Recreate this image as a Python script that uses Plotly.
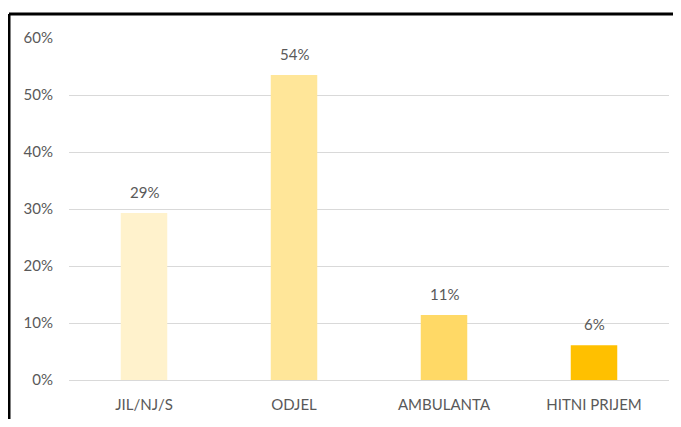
import plotly.graph_objects as go

categories = ["JIL/NJ/S", "ODJEL", "AMBULANTA", "HITNI PRIJEM"]
shares = [0.293, 0.535, 0.114, 0.061]
share_labels = ["29%", "54%", "11%", "6%"]
bar_colors = ["#FFF2CC", "#FFE699", "#FFD966", "#FFC000"]

# the page puts the figure 8px in from the top-left corner
W, H = 665, 411
L, R, T, B = 61, 4, 30, 39
pw, ph = W - L - R, H - T - B
FONT = "Lato"
GREY = "#595959"

fig = go.Figure(go.Bar(
    x=categories,
    y=shares,
    marker=dict(color=bar_colors, line=dict(width=0)),
    width=0.31,
    hoverinfo="skip",
))

for cat, val, lab in zip(categories, shares, share_labels):
    fig.add_annotation(x=cat, y=val, text=lab, showarrow=False,
                       yanchor="bottom", yshift=10,
                       font=dict(size=15, color=GREY, family=FONT))

# black frame on the top and left edges
top_y = 1 + (T - 6) / ph
left_x = (1 - L) / pw
fig.add_shape(type="line", xref="paper", yref="paper",
              x0=left_x, x1=(W + 10 - L) / pw, y0=top_y, y1=top_y,
              line=dict(color="black", width=3))
fig.add_shape(type="line", xref="paper", yref="paper",
              x0=left_x, x1=left_x, y0=top_y, y1=-(B + 10) / ph,
              line=dict(color="black", width=3))

fig.update_layout(
    width=W, height=H,
    margin=dict(l=L, r=R, t=T, b=B),
    plot_bgcolor="white", paper_bgcolor="white",
    showlegend=False,
    font=dict(family=FONT, color=GREY, size=15),
)
fig.update_yaxes(
    range=[0, 0.6], dtick=0.1, tickformat=".0%",
    showgrid=True, gridcolor="#D9D9D9", gridwidth=1,
    zeroline=True, zerolinecolor="#D9D9D9", zerolinewidth=1,
    showline=False, ticks="", ticklabelstandoff=15,
    tickfont=dict(size=15, color=GREY, family=FONT),
)
fig.update_xaxes(
    showline=False, ticks="", ticklabelstandoff=14,
    tickfont=dict(size=15, color=GREY, family=FONT),
)

fig.write_html("out.html")
